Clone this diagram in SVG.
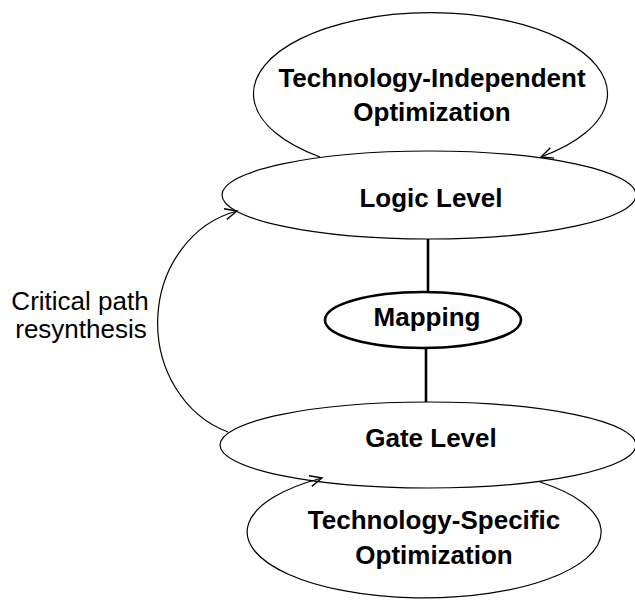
<svg xmlns="http://www.w3.org/2000/svg" width="635" height="600" viewBox="0 0 635 600">
<defs>
<style>
.node{fill:#fff;stroke:#000;stroke-width:1.2}
.bold{font-family:"Liberation Sans",Arial,sans-serif;font-weight:bold;font-size:26px;text-anchor:middle;fill:#000}
.reg{font-family:"Liberation Sans",Arial,sans-serif;font-size:26px;text-anchor:middle;fill:#000}
.edge{fill:none;stroke:#000;stroke-width:1.2}
.thick{fill:none;stroke:#000;stroke-width:2.6}
</style>
<marker id="arr" markerUnits="userSpaceOnUse" markerWidth="16" markerHeight="14" refX="13" refY="6" orient="auto">
<path d="M1,0.5 L13,6 L1,11.5" fill="none" stroke="#000" stroke-width="1.3"/>
</marker>
</defs>
<rect width="635" height="600" fill="#fff"/>
<g id="logic">
<ellipse class="node" cx="429" cy="195" rx="207" ry="44"/>
<text class="bold" x="431" y="207">Logic Level</text>
</g>
<g id="gate">
<ellipse class="node" cx="428" cy="445" rx="208" ry="43"/>
<text class="bold" x="431" y="447">Gate Level</text>
</g>
<g id="mapping">
<ellipse cx="423" cy="320" rx="98" ry="28" fill="#fff" stroke="#000" stroke-width="2.6"/>
<text class="bold" x="427" y="326">Mapping</text>
</g>
<g id="tech-independent">
<text class="bold" x="432" y="87">Technology-Independent</text>
<text class="bold" x="432" y="121">Optimization</text>
</g>
<g id="tech-specific">
<text class="bold" x="434" y="529">Technology-Specific</text>
<text class="bold" x="434" y="564">Optimization</text>
</g>
<g id="critical">
<text class="reg" x="80" y="310">Critical path</text>
<text class="reg" x="81" y="338">resynthesis</text>
</g>
<g id="connectors">
<path class="edge" d="M320,157 A177,81 0 1 1 541,157" marker-end="url(#arr)"/>
<path class="edge" d="M540,482 A177,66 0 1 1 322,478" marker-end="url(#arr)"/>
<path class="edge" d="M228,432 A103,115 0 0 1 237,211" marker-end="url(#arr)"/>
<line class="thick" x1="428" y1="239" x2="428" y2="292"/>
<line class="thick" x1="426" y1="348" x2="426" y2="402"/>
</g>
</svg>
